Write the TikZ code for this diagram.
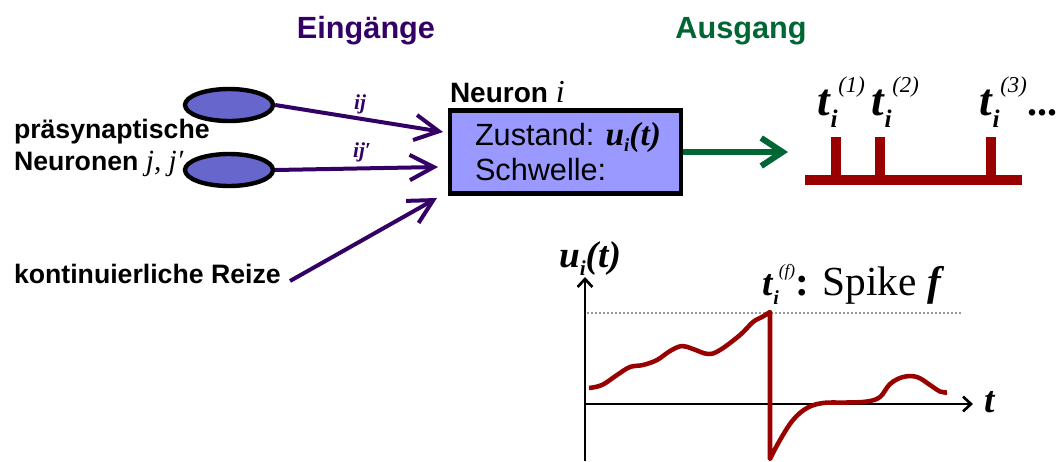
\documentclass[tikz,border=0pt]{standalone}
\usepackage{fontspec}
\setmainfont{Liberation Serif}
\newfontfamily\arial{Liberation Sans}
\usetikzlibrary{arrows.meta,shapes.geometric}
\definecolor{purp}{RGB}{51,0,102}
\definecolor{grn}{RGB}{0,102,51}
\definecolor{dred}{RGB}{153,0,0}
\definecolor{ellfill}{RGB}{102,102,204}
\definecolor{boxfill}{RGB}{153,153,255}
\definecolor{thr}{RGB}{150,150,150}
\newcommand\fs[1]{\fontsize{#1}{#1}\selectfont}
\newcommand\bi[1]{\textbf{\textit{#1}}}
\newcommand\tlab[1]{\fs{34pt}\bi{t}\raisebox{-9pt}{\fs{19pt}\bi{i}}\hspace{0.5pt}\raisebox{17pt}{\fs{17pt}\textit{(#1)}}}
\begin{document}
\begin{tikzpicture}[x=0.75pt,y=-0.75pt,
  txt/.style={inner sep=0pt,outer sep=0pt,anchor=base west},
  hdr/.style={inner sep=0pt,anchor=base,font=\arial\bfseries\fs{23pt}},
  lbl/.style={txt,font=\arial\bfseries\fs{20pt}},
  ell/.style={ellipse,draw=black,line width=3.3pt,fill=ellfill,minimum width=66pt,minimum height=24pt,inner sep=0pt},
  nbox/.style={rectangle,draw=black,line width=3.4pt,fill=boxfill,minimum width=173pt,minimum height=62.6pt,inner sep=0pt},
  parr/.style={draw=purp,line width=3pt,-{Straight Barb[length=18pt,width=19pt]}},
  garr/.style={draw=grn,line width=4.5pt,-{Straight Barb[length=16pt,width=21pt]}},
  spk/.style={draw=dred,line width=7.5pt},
  axis/.style={draw=black,line width=2pt,-{Straight Barb[length=6pt,width=11pt]}},
  thres/.style={draw=thr,line width=1.5pt,dash pattern=on 1.5pt off 1.5pt},
  curve/.style={draw=dred,line width=3.4pt,line join=round},
  wlbl/.style={inner sep=0pt,text=purp,font=\fs{16pt}\bfseries\itshape}
]
\useasboundingbox (0,0) rectangle (1059,461);

% headings
\node[hdr,text=purp] (ein) at (366,38) {Eingänge};
\node[hdr,text=grn] (aus) at (741,38) {Ausgang};

% presynaptic neurons
\node[ell] (e1) at (229,105) {};
\node[ell] (e2) at (229,170) {};
\node[lbl] (pra) at (14,138) {präsynaptische};
\node[lbl] (neu) at (14,170) {Neuronen {\normalfont\fs{22pt}\itshape j, j′}};
\node[lbl] (rei) at (14,283) {kontinuierliche Reize};

% neuron box
\node[nbox] (nb) at (565.5,152) {};
\node[txt,font=\arial\bfseries\fs{21pt}] (nt) at (450,102) {Neuron {\normalfont\fs{24pt}\itshape i}};
\node[txt,font=\arial\fs{23pt}] (zu) at (475,145) {Zustand: {\normalfont\fs{25pt}\bi{u}\raisebox{-5pt}{\fs{14pt}\bi{i}}\bi{(t)}}};
\node[txt,font=\arial\fs{23pt}] (sw) at (475,180) {Schwelle:};

% input arrows
\coordinate (a1) at (443,132);
\coordinate (a2) at (438,167);
\coordinate (a3s) at (290,281);
\coordinate (a3) at (437,198);
\draw[parr] (e1.east) -- (a1);
\draw[parr] (e2.east) -- (a2);
\draw[parr] (a3s) -- (a3);
\node[wlbl] (w1) at (360,104) {ij};
\node[wlbl] (w2) at (362,152) {ij′};

% output arrow
\coordinate (g) at (788,152);
\draw[garr] (nb.east) -- (g);

% spike train
\draw[spk] (805,180) -- (1022,180);
\foreach \x in {836,880,991} \draw[spk] (\x,137) -- (\x,180);
\node[txt] (t1) at (817,115) {\tlab{1}};
\node[txt] (t2) at (871,115) {\tlab{2}};
\node[txt] (t3) at (979,115) {\tlab{3}};
\node[txt,font=\fs{30pt}\bfseries] (dots) at (1027,115) {...};

% membrane potential graph
\coordinate (yb) at (585,461);
\coordinate (yt) at (585,277);
\coordinate (xo) at (584,404);
\coordinate (xt) at (973,404);
\draw[axis] (yb) -- (yt);
\draw[axis] (xo) -- (xt);
\draw[thres] (587,313) -- (962,313);
\node[txt] (ul) at (559,267) {\fs{28pt}\bi{u}\raisebox{-6pt}{\fs{16pt}\bi{i}}\bi{(t)}};
\node[txt] (tl) at (984,412) {\fs{28pt}\bi{t}};
\node[txt] (sl) at (762,295) {\fs{28pt}\bi{t}\raisebox{-7pt}{\fs{15pt}\bi{i}}\raisebox{14pt}{\fs{13pt}\textit{(f)}}\fs{31pt}\textbf{:} Spike \bi{f}};

\draw[curve] plot[smooth,tension=0.6] coordinates {(589,388) (602,385) (617,375) (630,367) (643,365) (657,360) (670,351) (682,346) (693,349) (708,354) (720,350) (740,335) (753,322) (762,317) (770,312)}
  -- (770,459)
  -- plot[smooth,tension=0.6] coordinates {(770,459) (780,440) (793,420) (807,408) (823,403) (847,402.5) (867,401.5) (880,397) (890,384) (903,377) (917,377) (930,385) (940,391.5) (947,392.5)};
\end{tikzpicture}
\end{document}
